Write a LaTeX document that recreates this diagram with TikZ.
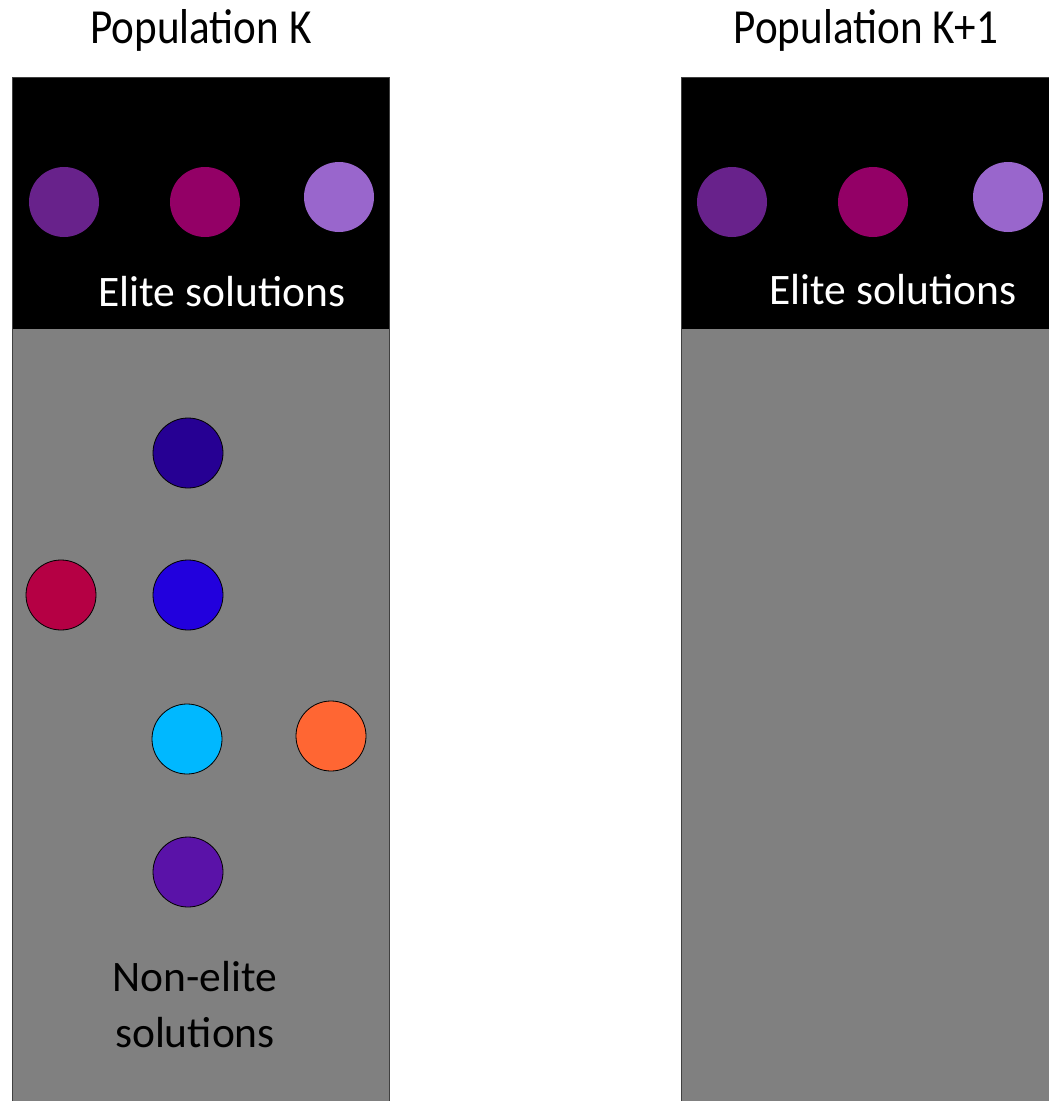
\documentclass[tikz,border=0pt]{standalone}
\usepackage{fontspec}
\setmainfont{Carlito}
\definecolor{panelgray}{HTML}{808080}
\definecolor{edgegray}{HTML}{404040}
\definecolor{eliteA}{HTML}{68228B}
\definecolor{eliteB}{HTML}{930066}
\definecolor{eliteC}{HTML}{9966CC}
\definecolor{solNavy}{HTML}{260093}
\definecolor{solCrimson}{HTML}{B50044}
\definecolor{solBlue}{HTML}{2200DD}
\definecolor{solCyan}{HTML}{00B8FF}
\definecolor{solOrange}{HTML}{FF6633}
\definecolor{solViolet}{HTML}{5A12A8}
\begin{document}
\begin{tikzpicture}[x=1pt,y=-1pt,
  elite/.style={circle,minimum size=70pt,inner sep=0pt,fill=#1},
  member/.style={circle,minimum size=70pt,inner sep=0pt,fill=#1,draw=black,line width=0.8pt},
  title/.style={font=\fontsize{49}{52}\selectfont,text=black,inner sep=0pt},
  label/.style={font=\fontsize{43.5}{56}\selectfont,inner sep=0pt,align=center}]
\useasboundingbox (0,0) rectangle (1049,1101);
\clip (0,0) rectangle (1049,1101);
% population K panel
\fill[panelgray] (12,329) rectangle (389,1110);
\fill[black] (12,77) rectangle (389,329);
\draw[edgegray,line width=0.8pt] (12,1110) -- (12,77) -- (389,77) -- (389,1110);
% population K+1 panel
\fill[panelgray] (681,329) rectangle (1060,1110);
\fill[black] (681,77) rectangle (1060,329);
\draw[edgegray,line width=0.8pt] (681,1110) -- (681,77) -- (1060,77);
% titles
\node[title] (tK) at (201,30) {\scalebox{0.88}[1]{Population K}};
\node[title] (tK1) at (866,30) {\scalebox{0.88}[1]{Population K+1}};
% elite solutions, population K
\node[elite=eliteA] (eA) at (64,202) {};
\node[elite=eliteB] (eB) at (205,202) {};
\node[elite=eliteC] (eC) at (339,197) {};
\node[label,text=white] (eliteK) at (222,292) {Elite solutions};
% elite solutions, population K+1
\node[elite=eliteA] (fA) at (732,202) {};
\node[elite=eliteB] (fB) at (873,202) {};
\node[elite=eliteC] (fC) at (1008,197) {};
\node[label,text=white] (eliteK1) at (893,290) {Elite solutions};
% non-elite solutions, population K
\node[member=solNavy] (n1) at (188,453) {};
\node[member=solCrimson] (n2) at (61,595) {};
\node[member=solBlue] (n3) at (188,595) {};
\node[member=solCyan] (n4) at (187,739) {};
\node[member=solOrange] (n5) at (331,736) {};
\node[member=solViolet] (n6) at (188,872) {};
\node[label,text=black] (nonelite) at (195,1005) {Non-elite\\solutions};
\end{tikzpicture}
\end{document}
